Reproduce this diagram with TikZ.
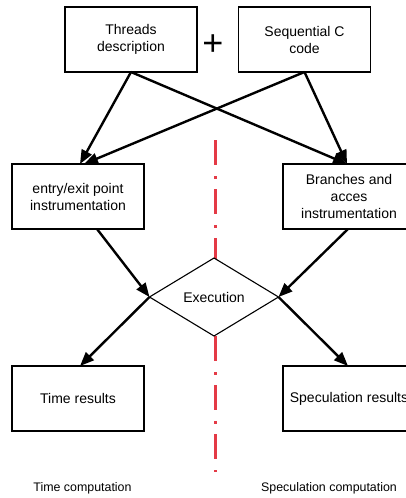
\documentclass[tikz,border=0pt]{standalone}
\usepackage{fontspec}
\setmainfont{Liberation Sans}
\usepackage{tikz}
\usetikzlibrary{arrows.meta,shapes.geometric,positioning}
\definecolor{sepred}{RGB}{228,58,70}

\tikzset{
	box/.style={draw, line width=1.1pt, minimum width=132pt, minimum height=65pt, inner sep=0pt, outer sep=0pt, align=center, font=\fontsize{14}{17}\selectfont},
	cond/.style={draw, diamond, fill=white, line width=1.1pt, aspect=1.65, minimum width=129pt, minimum height=78pt, inner sep=0pt, outer sep=0pt, font=\fontsize{14}{17}\selectfont},
	flow/.style={-{Triangle[length=14pt,width=11pt]}, line width=2.4pt},
	sepline/.style={draw=sepred, line width=3pt, dash pattern=on 25pt off 11pt on 3pt off 10pt},
	caption/.style={font=\fontsize{12.4}{14}\selectfont}
}

\begin{document}
\begin{tikzpicture}[x=1pt,y=-1pt]
		\useasboundingbox (0,0) rectangle (406,498);
		\clip (0,0) rectangle (406,498);
		% separation between the two computations
		\draw[sepline] (215.5,140) -- (215.5,472);
		\node[box] (threads) at (131,39.5) {Threads\\description};
		\node[box] (seq) at (304.5,39.5) {Sequential C\\code};
		\node[font=\fontsize{36}{36}\selectfont] (plus) at (213,45) {+};
		\node[box] (entry) at (78,196.5) {entry/exit point\\instrumentation};
		\node[box] (branch) at (349,196.5) {Branches and\\acces\\instrumentation};
		\node[cond] (exec) at (214,297) {Execution};
		\node[box] (time) at (78,398.5) {Time results};
		\node[box] (spec) at (349,398.5) {Speculation results};
		\node[caption] (timecomp) at (82.5,488) {Time computation};
		\node[caption] (speccomp) at (329,488) {Speculation computation};
		% instrumentation
		\draw[flow] (threads.south) -- ([xshift=2pt]entry.north);
		\draw[flow] (seq.south) -- ([xshift=6pt]entry.north);
		\draw[flow] (threads.south) -- ([xshift=-2pt]branch.north);
		\draw[flow] (seq.south) -- ([xshift=-2pt]branch.north);
		% execution and results
		\draw[flow] ([xshift=19pt]entry.south) -- (exec.west);
		\draw[flow] ([xshift=-1pt]branch.south) -- (exec.east);
		\draw[flow] (exec.west) -- ([xshift=2pt]time.north);
		\draw[flow] (exec.east) -- ([xshift=-1pt]spec.north);
	\end{tikzpicture}
\end{document}
